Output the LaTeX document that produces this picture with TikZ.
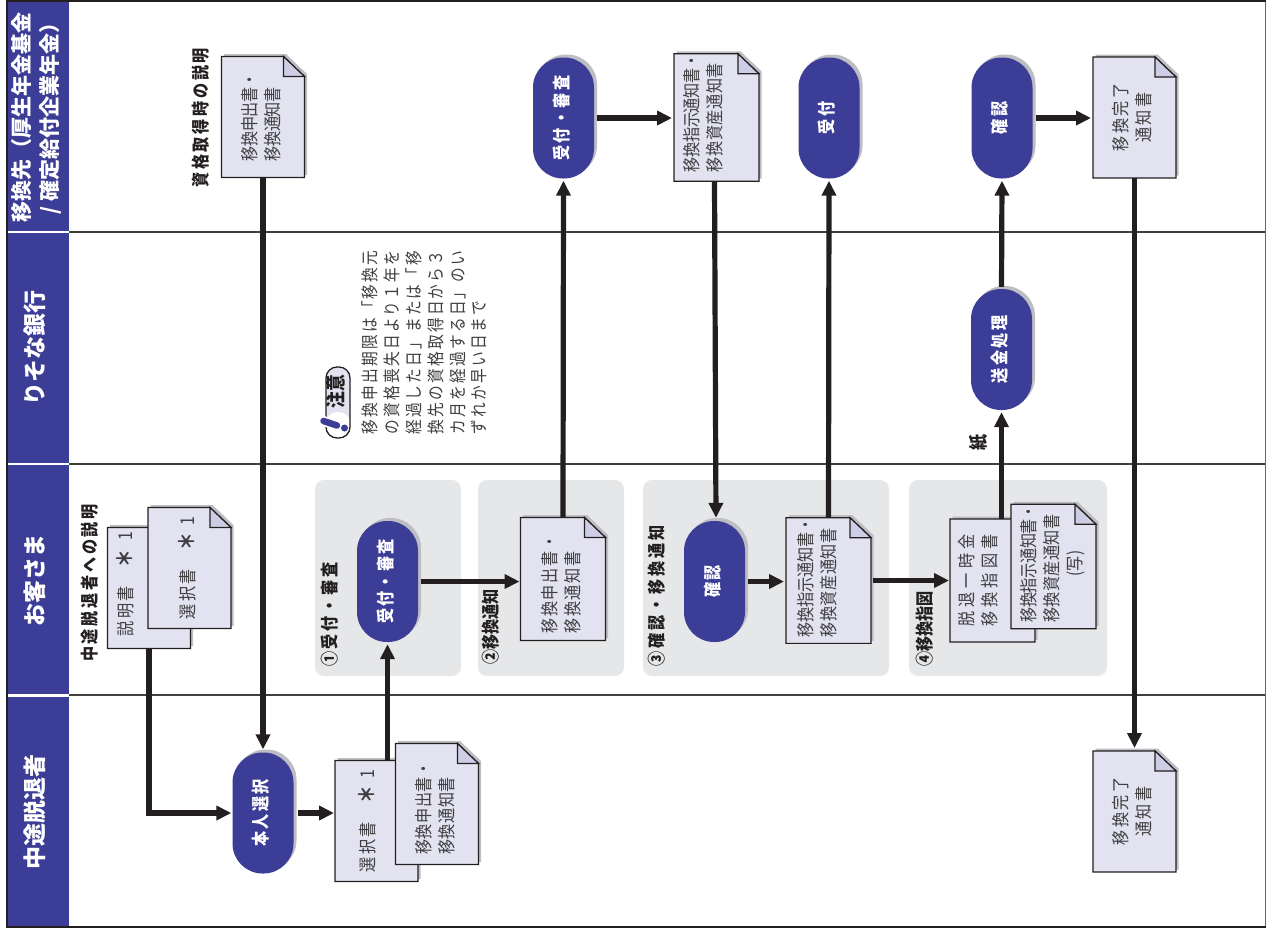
\documentclass[tikz,border=0pt]{standalone}
\usepackage{fontspec}
\usepackage{graphicx}
\usepackage{xcolor}
\usepackage{tikz}
\usetikzlibrary{arrows.meta,positioning,shapes.geometric,shapes.misc,shadows}
\setmainfont[FakeStretch=0.84]{Noto Sans CJK JP}
\newfontfamily\headfont{Noto Sans CJK JP}
\definecolor{lanenavy}{HTML}{3C3D96}
\definecolor{sheettint}{HTML}{E2E2F0}
\definecolor{foldtint}{HTML}{CDCDE6}
\definecolor{panelgray}{HTML}{E6E7E8}
\definecolor{inkblack}{HTML}{231F20}
\definecolor{softink}{HTML}{3F3F42}
\definecolor{dropgray}{HTML}{BDBDC3}

% sheet of paper with a folded corner
\makeatletter
\pgfdeclareshape{foldsheet}{
  \inheritsavedanchors[from=rectangle]
  \inheritanchorborder[from=rectangle]
  \inheritanchor[from=rectangle]{center}
  \inheritanchor[from=rectangle]{north}
  \inheritanchor[from=rectangle]{south}
  \inheritanchor[from=rectangle]{east}
  \inheritanchor[from=rectangle]{west}
  \backgroundpath{
    \southwest \pgf@xa=\pgf@x \pgf@ya=\pgf@y
    \northeast \pgf@xb=\pgf@x \pgf@yb=\pgf@y
    \pgf@xc=\pgf@xb \advance\pgf@xc by-21pt
    \pgf@yc=\pgf@yb \advance\pgf@yc by-20pt
    \pgfpathmoveto{\pgfqpoint{\pgf@xa}{\pgf@ya}}
    \pgfpathlineto{\pgfqpoint{\pgf@xa}{\pgf@yb}}
    \pgfpathlineto{\pgfqpoint{\pgf@xc}{\pgf@yb}}
    \pgfpathlineto{\pgfqpoint{\pgf@xb}{\pgf@yc}}
    \pgfpathlineto{\pgfqpoint{\pgf@xb}{\pgf@ya}}
    \pgfpathclose
  }
  \foregroundpath{
    \southwest \pgf@xa=\pgf@x \pgf@ya=\pgf@y
    \northeast \pgf@xb=\pgf@x \pgf@yb=\pgf@y
    \pgf@xc=\pgf@xb \advance\pgf@xc by-21pt
    \pgf@yc=\pgf@yb \advance\pgf@yc by-20pt
    \pgfsetfillcolor{foldtint}
    \pgfpathmoveto{\pgfqpoint{\pgf@xc}{\pgf@yb}}
    \pgfpathlineto{\pgfqpoint{\pgf@xc}{\pgf@yc}}
    \pgfpathlineto{\pgfqpoint{\pgf@xb}{\pgf@yc}}
    \pgfpathclose
    \pgfusepath{fill,stroke}
  }
}
\makeatother

\newcommand{\rt}[2][0pt]{\rotatebox{90}{\hspace*{#1}\begin{tabular}{@{}l@{}}#2\end{tabular}}}
\newcommand{\wide}[2]{{\addfontfeatures{LetterSpace=#1}#2}}
\newcommand{\midline}[1]{\multicolumn{1}{c}{#1}}
\newcommand{\astermark}[1]{\hspace{19pt}{\fontsize{21}{23}\selectfont\bfseries ＊}\hspace{#1}{\fontsize{19}{23}\selectfont 1}}

\begin{document}
\begin{tikzpicture}[
  x=1pt, y=-1pt,
  lanehead/.style={fill=lanenavy, text=white, inner sep=0pt, minimum width=61pt, minimum height=230pt,
    font=\headfont\fontsize{23}{28}\selectfont\bfseries},
  laneline/.style={draw=black!75, line width=1.1pt},
  panel/.style={fill=panelgray, rounded corners=9pt, inner sep=0pt},
  pill/.style={fill=lanenavy, text=white, inner sep=0pt, rounded corners=30pt,
    minimum width=61pt, minimum height=121pt,
    general shadow={shadow xshift=3pt, shadow yshift=3pt, fill=dropgray},
    font=\fontsize{18}{23}\selectfont\bfseries\addfontfeatures{LetterSpace=13}},
  sheet/.style={shape=foldsheet, draw=inkblack, line width=1.2pt, fill=sheettint, text=softink,
    inner sep=0pt, outer sep=0pt, minimum width=83pt, minimum height=121pt,
    general shadow={shadow xshift=2.5pt, shadow yshift=2.5pt, fill=dropgray},
    font=\fontsize{18}{23}\selectfont},
  bigsheet/.style={sheet, minimum width=85pt, minimum height=123pt},
  caption/.style={inner sep=0pt, text=inkblack, font=\fontsize{18}{22}\selectfont\bfseries},
  notetext/.style={inner sep=0pt, text=softink, font=\fontsize{17.5}{21.8}\selectfont\addfontfeatures{LetterSpace=13}},
  badge/.style={draw=inkblack, line width=1.3pt, fill=sheettint, rounded corners=11pt, inner sep=0pt,
    minimum width=24pt, minimum height=71pt, text=inkblack, font=\fontsize{20}{22}\selectfont\bfseries},
  flow/.style={-{Triangle[length=15pt,width=14pt]}, line width=5.2pt, draw=inkblack}
]
\useasboundingbox (0,0) rectangle (1266,930);

% lanes
\node[lanehead, font=\headfont\fontsize{21}{28}\selectfont\bfseries] (laneto) at (38,117) {\rt{移換先（厚生年金基金\\\hspace*{8pt}/ 確定給付企業年金）}};
\node[lanehead] (lanebank) at (38,348) {\rt{りそな銀行}};
\node[lanehead] (laneclient) at (38,580) {\rt{お客さま}};
\node[lanehead] (lanemember) at (38,812) {\rt{中途脱退者}};
\foreach \y in {232,464,695} {
  \draw[white, line width=1.3pt] (7,\y) -- (69,\y);
  \draw[laneline] (69,\y) -- (1265,\y);
}
\draw[black!60, line width=.8pt] (1265,1) -- (1265,927);
\draw[inkblack, line width=1.8pt] (1266,.9) -- (6.6,.9) -- (6.6,927) -- (1266,927);

% grey panels
\node[panel, minimum width=146pt, minimum height=196pt] (panelone) at (388,578) {};
\node[panel, minimum width=146pt, minimum height=196pt] (paneltwo) at (551,578) {};
\node[panel, minimum width=246pt, minimum height=196pt] (panelthree) at (766,578) {};
\node[panel, minimum width=198pt, minimum height=196pt] (panelfour) at (1008,578) {};
\node[caption, anchor=south] (capone) at (332,667) {\rt{\wide{15}{①受付・審査}}};
\node[caption, anchor=south] (captwo) at (493,665) {\rt{②移換通知}};
\node[caption, anchor=south] (capthree) at (659,667) {\rt{\wide{16}{③確認・移換通知}}};
\node[caption, anchor=south] (capfour) at (927,667) {\rt{④移換指図}};

% captions outside the panels
\node[caption, anchor=south] (capjoin) at (203,188) {\rt{\wide{15}{資格取得時の説明}}};
\node[caption, anchor=south] (capleave) at (92,662) {\rt{\wide{15}{中途脱退者への説明}}};
\node[caption, font=\fontsize{19}{20}\selectfont\bfseries] (cappaper) at (980,443) {\rt{紙}};

% note
\node[notetext, anchor=south] (notebody) at (427,435) {\rt{移換申出期限は「移換元\\の資格喪失日より１年を\\経過した日」または「移\\換先の資格取得日から３\\カ月を経過する日」のい\\ずれか早い日まで}};
\node[badge, path picture={\fill[white] (path picture bounding box.south west) rectangle ([yshift=26pt]path picture bounding box.south east);}] (notebadge) at (338,402.5) {\rt[22pt]{注意}};
\coordinate (marktop) at (323.5,421);
\coordinate (markend) at (337,425.5);
\node[circle, fill=lanenavy, inner sep=0pt, minimum size=7pt] (markdot) at (344.5,428) {};
\draw[white, line width=10pt] (marktop) -- (markend);
\draw[lanenavy, line width=6.5pt, line cap=round] (marktop) -- (markend);

% rounded boxes
\node[pill] (pickself) at (263,813) {\rt{本人選択}};
\node[pill] (checkone) at (387.5,581.5) {\rt{受付・審査}};
\node[pill] (checktop) at (563.5,118) {\rt{受付・審査}};
\node[pill] (confirmmid) at (714.5,581.5) {\rt{確認}};
\node[pill] (accepttop) at (829,118) {\rt{受付}};
\node[pill] (confirmtop) at (1002,118) {\rt{確認}};
\node[pill] (remit) at (1001.5,349.5) {\rt{送金処理}};

% sheets
\node[sheet] (formjoin) at (263,117) {\rt{\wide{-2}{移換申出書・}\\\wide{-2}{移換通知書}}};
\node[sheet] (guideback) at (149,588) {\rt[8pt]{\wide{12}{説明書}\astermark{9pt}\\[42pt]}};
\node[sheet] (pickfront) at (189.5,568) {\rt{\wide{12}{選択書}\astermark{7pt}}};
\node[sheet] (pickback) at (376.5,821) {\rt{\wide{12}{選択書}\astermark{7pt}\\[14pt]}};
\node[sheet] (formfront) at (437,804) {\rt[-8pt]{\wide{3}{移換申出書・}\\\wide{3}{移換通知書}}};
\node[bigsheet] (formmid) at (563,579) {\rt[-10pt]{\wide{10}{移換申出書・}\\\wide{10}{移換通知書}}};
\node[bigsheet] (noticetop) at (716.5,117.5) {\rt[9pt]{\wide{-2}{移換指示通知書・}\\\wide{3}{移換資産通知書}\\[22pt]}};
\node[bigsheet] (noticemid) at (828.5,580.5) {\rt[6pt]{\wide{-1}{移換指示通知書・}\\\wide{3}{移換資産通知書}\\[18pt]}};
\node[bigsheet] (orderback) at (992.5,580.5) {\rt{\wide{24}{脱退一時金}\\\wide{24}{移換指図書}\\[24pt]}};
\node[bigsheet] (orderfront) at (1053.5,566.5) {\rt[6pt]{\wide{-2}{移換指示通知書・}\\\wide{2}{移換資産通知書}\\\midline{(写)}}};
\node[sheet] (donetop) at (1134.5,117.5) {\rt{\wide{13}{移換完了}\\\midline{\wide{13}{通知書}}}};
\node[sheet] (donelow) at (1134.5,811.5) {\rt{\wide{13}{移換完了}\\\midline{\wide{13}{通知書}}}};

% connectors
\draw[flow, shorten >=3pt] (formjoin.south) -- (pickself.north);
\draw[flow, shorten >=1pt] (guideback.south) |- (pickself.west);
\draw[flow, shorten <=4pt, shorten >=1pt] (pickself.east) -- (pickself.east -| pickback.west);
\draw[flow, shorten >=2pt] (checkone.south |- pickback.north) -- (checkone.south);
\draw[flow, shorten <=3pt, shorten >=1pt] (checkone.east) -- (checkone.east -| formmid.west);
\draw[flow, shorten >=2pt] (formmid.north) -- (checktop.south);
\draw[flow, shorten <=3pt, shorten >=2pt] (checktop.east) -- (noticetop.west |- checktop.east);
\draw[flow, shorten >=3pt] (confirmmid.north |- noticetop.south) -- ([xshift=1.5pt]confirmmid.north);
\draw[flow, shorten <=3pt, shorten >=2pt] (confirmmid.east) -- (noticemid.west |- confirmmid.east);
\draw[flow, shorten >=2pt] (noticemid.north) -- (accepttop.south);
\draw[flow, shorten <=2pt, shorten >=1pt] (noticemid.east) -- (orderback.west |- noticemid.east);
\draw[flow, shorten >=2pt] (remit.south |- orderback.north) -- (remit.south);
\draw[flow, shorten <=2pt, shorten >=2pt] (remit.north) -- (confirmtop.south);
\draw[flow, shorten <=3pt, shorten >=2pt] (confirmtop.east) -- (donetop.west |- confirmtop.east);
\draw[flow, shorten >=3pt] (donetop.south) -- (donelow.north);
\end{tikzpicture}
\end{document}
